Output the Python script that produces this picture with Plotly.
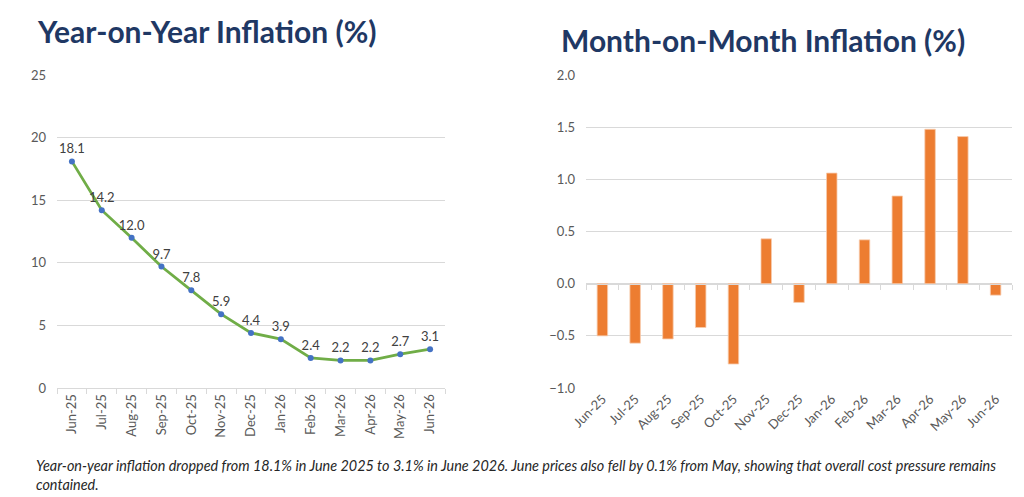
import plotly.graph_objects as go

months = ["Jun-25", "Jul-25", "Aug-25", "Sep-25", "Oct-25", "Nov-25", "Dec-25",
          "Jan-26", "Feb-26", "Mar-26", "Apr-26", "May-26", "Jun-26"]
yoy = [18.1, 14.2, 12.0, 9.7, 7.8, 5.9, 4.4, 3.9, 2.4, 2.2, 2.2, 2.7, 3.1]
mom = [-0.50, -0.57, -0.53, -0.42, -0.77, 0.43, -0.18, 1.06, 0.42, 0.84, 1.48, 1.41, -0.11]

title_left = "Year-on-Year Inflation (%)"
title_right = "Month-on-Month Inflation (%)"
caption = ("Year-on-year inflation dropped from 18.1% in June 2025 to 3.1% in June 2026. "
           "June prices also fell by 0.1% from May, showing that overall cost pressure remains"
           "<br>contained.")

# the page body keeps the browser's default 8px margin, so the figure sits inside it
OFF = 8
W, H = 1024 - 2 * OFF, 497 - OFF
NAVY = "#1F3864"
GRID = "#D9D9D9"
TICK = "#595959"
FONT = "Lato, Open Sans, sans-serif"


def px_x(v):
    return (v - OFF) / W


def px_y(v):
    return (H - (v - OFF)) / H


y_dom = [px_y(388), px_y(75)]
cat_range = [-0.5, len(months) - 0.5]
right_range = [-1, 2]
zero_pos = y_dom[0] + (0 - right_range[0]) / (right_range[1] - right_range[0]) * (y_dom[1] - y_dom[0])

fig = go.Figure()

fig.add_trace(go.Scatter(
    x=months, y=yoy, mode="lines+markers+text",
    text=[f"{v:.1f}" for v in yoy], textposition="top center",
    textfont={"size": 13, "color": "#404040", "family": FONT},
    line={"color": "#70AD47", "width": 2.8},
    marker={"color": "#4472C4", "size": 6},
    xaxis="x", yaxis="y", showlegend=False, cliponaxis=False,
))

fig.add_trace(go.Bar(
    x=months, y=mom, marker={"color": "#ED7D31", "line": {"color": "#F8CBAD", "width": 0.8}},
    width=0.32, xaxis="x2", yaxis="y2", showlegend=False,
))

# invisible trace so the zero-level category axis (with boundary ticks) is drawn
fig.add_trace(go.Scatter(
    x=months, y=[0] * len(months), mode="markers", marker={"opacity": 0},
    xaxis="x3", yaxis="y2", showlegend=False, hoverinfo="skip",
))

axis_font = {"size": 13, "color": TICK, "family": FONT}

fig.update_layout(
    width=W, height=H, margin={"l": 0, "r": 0, "t": 0, "b": 0, "autoexpand": False},
    paper_bgcolor="white", plot_bgcolor="white",
    font={"family": FONT},
    xaxis={
        "domain": [px_x(57), px_x(445)], "anchor": "y", "type": "category",
        "range": cat_range,
        "tickangle": -90, "tickfont": axis_font, "showline": True, "linecolor": GRID,
        "ticks": "outside", "tickson": "boundaries", "ticklen": 5, "tickcolor": GRID,
        "showgrid": False, "automargin": False,
    },
    yaxis={
        "domain": y_dom, "anchor": "x", "range": [0, 25], "dtick": 5,
        "tickfont": axis_font, "gridcolor": GRID, "showline": False,
        "zeroline": False, "ticks": "", "ticklabelstandoff": 10, "automargin": False,
    },
    xaxis2={
        "domain": [px_x(586), px_x(1012)], "anchor": "y2", "type": "category",
        "range": cat_range,
        "tickangle": -45, "tickfont": axis_font, "showline": False,
        "ticks": "", "showgrid": False, "automargin": False,
    },
    yaxis2={
        "domain": y_dom, "anchor": "x2", "range": right_range, "dtick": 0.5,
        "tickformat": ".1f", "tickfont": axis_font, "gridcolor": GRID,
        "zeroline": False, "showline": False, "ticks": "", "ticklabelstandoff": 10,
        "automargin": False,
    },
    xaxis3={
        "overlaying": "x2", "anchor": "free", "position": zero_pos, "type": "category",
        "range": cat_range,
        "domain": [px_x(586), px_x(1012)], "showticklabels": False, "showline": True,
        "linecolor": GRID, "ticks": "outside", "tickson": "boundaries", "ticklen": 5,
        "tickcolor": GRID, "showgrid": False, "automargin": False,
    },
    annotations=[
        {"text": f"<b>{title_left}</b>", "x": px_x(35), "y": px_y(31), "xref": "paper",
         "yref": "paper", "xanchor": "left", "yanchor": "middle", "showarrow": False,
         "font": {"size": 30, "color": NAVY, "family": FONT}},
        {"text": f"<b>{title_right}</b>", "x": px_x(559), "y": px_y(40), "xref": "paper",
         "yref": "paper", "xanchor": "left", "yanchor": "middle", "showarrow": False,
         "font": {"size": 30, "color": NAVY, "family": FONT}},
        {"text": f"<i>{caption}</i>", "x": px_x(34), "y": px_y(455), "xref": "paper",
         "yref": "paper", "xanchor": "left", "yanchor": "top", "align": "left",
         "showarrow": False, "font": {"size": 14.4, "color": "#262626", "family": FONT}},
    ],
)

fig.write_html("out.html")
